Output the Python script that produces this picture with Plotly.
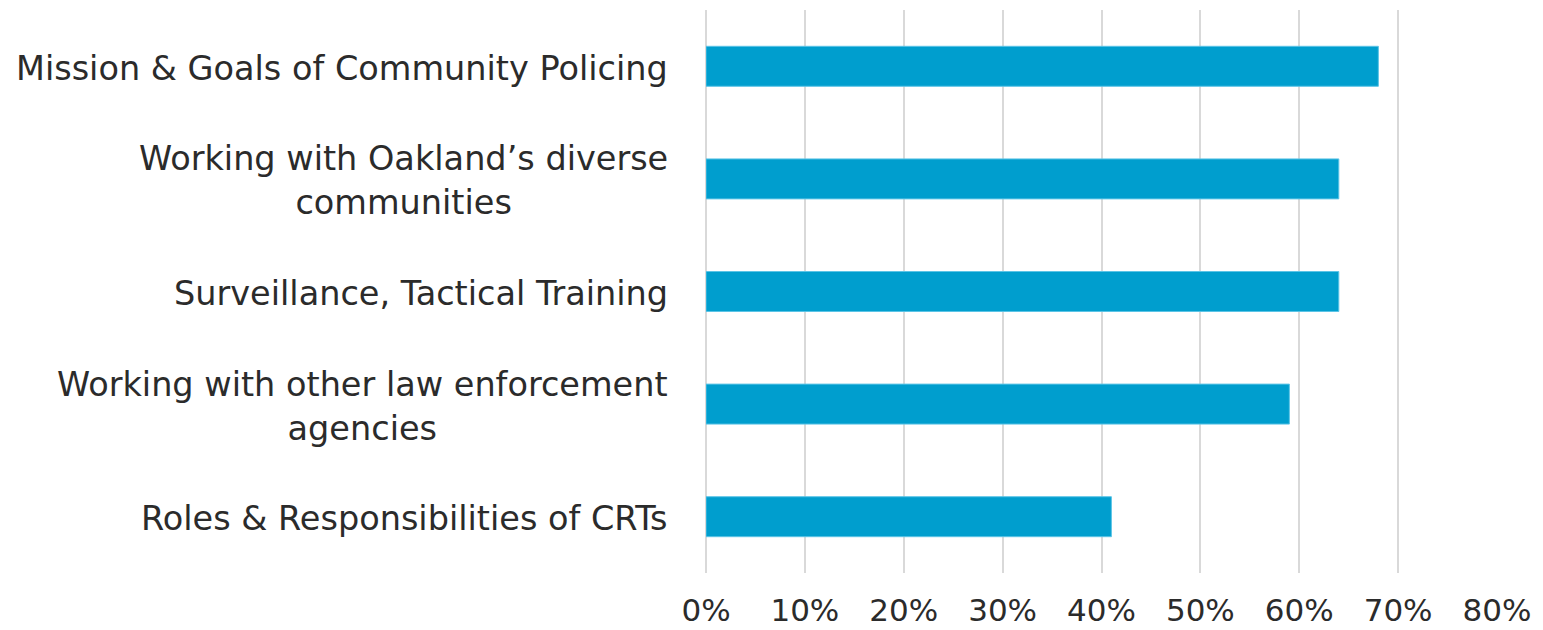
import plotly.graph_objects as go

# Training topics (top to bottom) and share of respondents
categories = [
    "Mission & Goals of Community Policing",
    "Working with Oakland’s diverse<br>communities",
    "Surveillance, Tactical Training",
    "Working with other law enforcement<br>agencies",
    "Roles & Responsibilities of CRTs",
]
values = [0.68, 0.64, 0.64, 0.59, 0.41]
tick_values = [0, 0.1, 0.2, 0.3, 0.4, 0.5, 0.6, 0.7, 0.8]
tick_labels = ["0%", "10%", "20%", "30%", "40%", "50%", "60%", "70%", "80%"]

FONT = "DejaVu Sans"
TEXT_COLOR = "#2B2B2B"
BAR_COLOR = "#009ECE"
GRID_COLOR = "#D9D9D9"

fig = go.Figure(
    go.Bar(
        x=values,
        y=categories,
        orientation="h",
        marker=dict(color=BAR_COLOR, line=dict(color="#5CC4E6", width=1)),
        hoverinfo="x+y",
    )
)

# Category labels as annotations so wrapped lines stay centred
for cat in categories:
    fig.add_annotation(
        x=0, xref="paper", y=cat, yref="y",
        text=cat, showarrow=False,
        xanchor="right", yanchor="middle", xshift=-36, yshift=-2,
        align="center",
        font=dict(family=FONT, size=33.5, color=TEXT_COLOR),
    )

fig.update_layout(
    width=1543,
    height=630,
    margin=dict(l=706, r=46, t=10, b=57),
    paper_bgcolor="white",
    plot_bgcolor="white",
    bargap=0.645,
    showlegend=False,
    font=dict(family=FONT, color=TEXT_COLOR),
)

fig.update_xaxes(
    range=[0, 0.8],
    tickvals=tick_values,
    ticktext=tick_labels,
    showgrid=True,
    gridcolor=GRID_COLOR,
    gridwidth=1.5,
    zeroline=True,
    zerolinecolor=GRID_COLOR,
    zerolinewidth=1.5,
    showline=False,
    ticks="",
    automargin=False,
    ticklabelstandoff=16,
    tickfont=dict(family=FONT, size=31, color=TEXT_COLOR),
)

fig.update_yaxes(
    categoryorder="array",
    categoryarray=categories,
    autorange="reversed",
    showticklabels=False,
    showgrid=False,
    zeroline=False,
    showline=False,
    ticks="",
    automargin=False,
)

fig.write_html("out.html")
